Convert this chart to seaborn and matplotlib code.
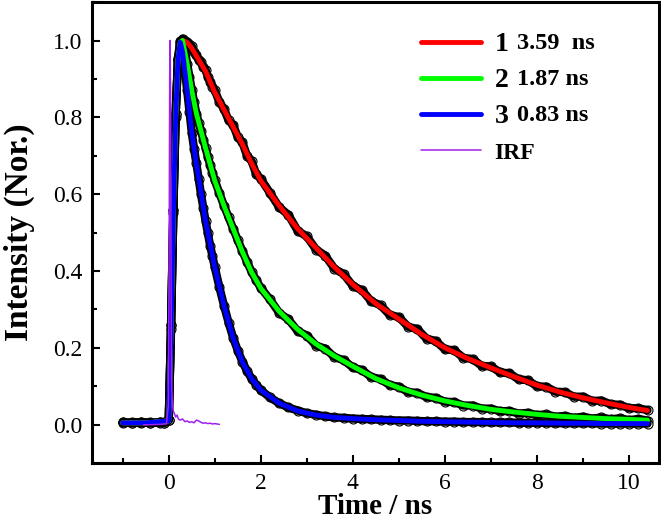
import matplotlib
matplotlib.use("Agg")
import matplotlib.pyplot as plt
import pandas as pd
import seaborn as sns
from matplotlib.ticker import MultipleLocator, FormatStrFormatter

sns.set_style("ticks")
plt.rcParams['font.family'] = ['Liberation Serif', 'DejaVu Serif']
plt.rcParams['text.color'] = 'black'
plt.rcParams['axes.labelcolor'] = 'black'

t_data = [-1.0, -0.8, -0.6, -0.4, -0.2, -0.1,
          0.0, 0.05, 0.1, 0.15, 0.2, 0.25, 0.3, 0.35, 0.4, 0.45, 0.5, 0.55, 0.6, 0.65, 0.7,
          0.75, 0.8, 0.85, 0.9, 0.95, 1.0,
          1.1, 1.2, 1.3, 1.4, 1.5, 1.6, 1.7, 1.8, 1.9, 2.0,
          2.2, 2.4, 2.6, 2.8, 3.0, 3.2, 3.4, 3.6, 3.8, 4.0, 4.2, 4.4, 4.6, 4.8, 5.0,
          5.2, 5.4, 5.6, 5.8, 6.0, 6.2, 6.4, 6.6, 6.8, 7.0, 7.2, 7.4, 7.6, 7.8, 8.0,
          8.2, 8.4, 8.6, 8.8, 9.0, 9.2, 9.4, 9.6, 9.8, 10.0, 10.2, 10.4]

data_1 = [0.006, 0.004, 0.007, 0.005, 0.006, 0.004,
          0.012, 0.26, 0.56, 0.81, 0.95, 0.995, 1.005, 1.0, 0.996, 0.99, 0.985, 0.97, 0.962, 0.95, 0.944,
          0.93, 0.924, 0.905, 0.893, 0.88, 0.87,
          0.84, 0.822, 0.792, 0.78, 0.748, 0.735, 0.70, 0.686, 0.652, 0.64,
          0.603, 0.566, 0.546, 0.505, 0.49, 0.456, 0.44, 0.406, 0.392, 0.361, 0.35, 0.321, 0.311, 0.286, 0.28,
          0.255, 0.249, 0.224, 0.218, 0.196, 0.194, 0.174, 0.171, 0.153, 0.152, 0.136, 0.134, 0.118, 0.116, 0.1,
          0.099, 0.086, 0.085, 0.073, 0.073, 0.062, 0.063, 0.053, 0.052, 0.043, 0.043, 0.038]

data_2 = [0.005, 0.006, 0.004, 0.006, 0.005, 0.006,
          0.012, 0.25, 0.55, 0.8, 0.95, 0.99, 1.0, 0.975, 0.94, 0.905, 0.872, 0.84, 0.81, 0.786, 0.765,
          0.742, 0.72, 0.697, 0.676, 0.655, 0.636,
          0.603, 0.57, 0.54, 0.51, 0.48, 0.452, 0.424, 0.398, 0.376, 0.356,
          0.326, 0.291, 0.274, 0.244, 0.232, 0.206, 0.198, 0.176, 0.168, 0.149, 0.142, 0.124, 0.119, 0.103, 0.099,
          0.085, 0.083, 0.072, 0.07, 0.06, 0.059, 0.05, 0.05, 0.042, 0.042, 0.035, 0.036, 0.029, 0.031, 0.025,
          0.027, 0.021, 0.023, 0.018, 0.021, 0.016, 0.019, 0.014, 0.017, 0.012, 0.015, 0.011]

data_3 = [0.006, 0.005, 0.007, 0.004, 0.006, 0.005,
          0.012, 0.26, 0.56, 0.81, 0.955, 0.998, 0.97, 0.925, 0.87, 0.815, 0.76, 0.718, 0.68, 0.64, 0.60,
          0.565, 0.53, 0.498, 0.466, 0.438, 0.41,
          0.358, 0.31, 0.266, 0.226, 0.193, 0.164, 0.14, 0.12, 0.104, 0.09,
          0.071, 0.056, 0.045, 0.037, 0.03, 0.026, 0.022, 0.019, 0.018, 0.016, 0.015, 0.014, 0.013, 0.012, 0.011,
          0.011, 0.01, 0.009, 0.009, 0.008, 0.008, 0.007, 0.007, 0.007, 0.006, 0.006, 0.006, 0.005, 0.005, 0.005,
          0.005, 0.004, 0.004, 0.004, 0.004, 0.004, 0.003, 0.003, 0.003, 0.003, 0.003, 0.003]

# fitted curves
t_fit = [-1.0, -0.5, 0.0, 0.05, 0.1, 0.15, 0.2, 0.25, 0.3, 0.4, 0.5, 0.6, 0.8, 1.0, 1.2, 1.4, 1.6, 1.8,
         2.0, 2.4, 2.8, 3.2, 3.6, 4.0, 4.5, 5.0, 5.5, 6.0, 6.5, 7.0, 7.5, 8.0, 8.5, 9.0, 9.5, 10.0, 10.4]
fit_1 = [0.005, 0.005, 0.01, 0.25, 0.55, 0.8, 0.95, 0.995, 1.0, 0.995, 0.98, 0.96, 0.92, 0.865, 0.82, 0.775,
         0.73, 0.68, 0.635, 0.57, 0.51, 0.46, 0.41, 0.365, 0.315, 0.275, 0.235, 0.2, 0.172, 0.148, 0.125,
         0.103, 0.085, 0.07, 0.057, 0.045, 0.037]
fit_2 = [0.005, 0.005, 0.01, 0.25, 0.55, 0.8, 0.95, 0.995, 1.0, 0.94, 0.87, 0.81, 0.72, 0.635, 0.57, 0.51,
         0.45, 0.397, 0.355, 0.295, 0.248, 0.21, 0.179, 0.152, 0.12, 0.096, 0.077, 0.062, 0.05, 0.04, 0.033,
         0.027, 0.022, 0.019, 0.016, 0.014, 0.012]
fit_3 = [0.005, 0.005, 0.01, 0.25, 0.55, 0.8, 0.95, 0.995, 0.97, 0.87, 0.76, 0.68, 0.53, 0.41, 0.31, 0.225,
         0.163, 0.12, 0.09, 0.056, 0.036, 0.025, 0.019, 0.016, 0.013, 0.011, 0.009, 0.008, 0.007, 0.006,
         0.005, 0.005, 0.004, 0.004, 0.003, 0.003, 0.003]

# instrument response
t_irf = [-0.55, -0.4, -0.2, -0.05, -0.01, 0.01, 0.02, 0.03, 0.04, 0.05, 0.06, 0.08, 0.1, 0.12, 0.15,
         0.18, 0.21, 0.25, 0.3, 0.35, 0.4, 0.45, 0.5, 0.55, 0.6, 0.65, 0.7, 0.75, 0.8, 0.85, 0.9, 0.95, 1.0, 1.1]
irf = [0.0, 0.0, 0.001, 0.002, 0.05, 0.5, 0.9, 1.0, 0.85, 0.4, 0.12, 0.05, 0.035, 0.03, 0.02,
       0.025, 0.015, 0.012, 0.015, 0.008, 0.01, 0.006, 0.008, 0.005, 0.012, 0.01, 0.006, 0.004, 0.005,
       0.003, 0.004, 0.002, 0.003, 0.001]

names = ['1', '2', '3']
lifetimes = ['3.59  ns', '1.87 ns', '0.83 ns']
colors = ['#ff0000', '#00ff00', '#0000ff']

fig = plt.figure(figsize=(6.61, 5.21), dpi=100)
ax = fig.add_axes([0.139, 0.111, 0.858, 0.885])

for name, d, f, c in zip(names, [data_1, data_2, data_3], [fit_1, fit_2, fit_3], colors):
    df_d = pd.DataFrame({'t': t_data, 'I': d})
    df_f = pd.DataFrame({'t': t_fit, 'I': f})
    sns.scatterplot(data=df_d, x='t', y='I', marker='o', s=42, color='white',
                    edgecolor='black', linewidth=0.8, zorder=2, ax=ax, legend=False)
    sns.lineplot(data=df_d, x='t', y='I', color='black', lw=6, sort=False,
                 estimator=None, zorder=3, ax=ax)
    sns.lineplot(data=df_f, x='t', y='I', color=c, lw=3.5, sort=False,
                 estimator=None, zorder=4, ax=ax, label=name)

df_irf = pd.DataFrame({'t': t_irf, 'I': irf})
sns.lineplot(data=df_irf, x='t', y='I', color='#a020f0', lw=1.1, sort=False,
             estimator=None, zorder=5, ax=ax, label='IRF')

ax.set_xlim(-1.67, 10.65)
ax.set_ylim(-0.1, 1.1)
ax.xaxis.set_major_locator(MultipleLocator(2))
ax.xaxis.set_minor_locator(MultipleLocator(1))
ax.yaxis.set_major_locator(MultipleLocator(0.2))
ax.yaxis.set_minor_locator(MultipleLocator(0.1))
ax.yaxis.set_major_formatter(FormatStrFormatter('%.1f'))
ax.tick_params(which='major', direction='in', length=6, width=1.5, labelsize=17, pad=7,
               top=False, right=False, colors='black')
ax.tick_params(which='minor', direction='in', length=3.5, width=1.5, top=False, right=False,
               colors='black')
for sp in ax.spines.values():
    sp.set_linewidth(2.2)
    sp.set_color('black')

ax.set_xlabel('Time / ns', fontsize=21, fontweight='bold', labelpad=-1, color='black')
ax.set_ylabel('Intensity (Nor.)', fontsize=24, fontweight='bold', labelpad=13, color='black')

handles, labels = ax.get_legend_handles_labels()
leg = ax.legend(handles, labels, loc='upper left', bbox_to_anchor=(0.58, 0.935), frameon=False,
                prop={'weight': 'bold', 'size': 20}, handlelength=2.16, handletextpad=0.5,
                labelspacing=0.38, borderpad=0, borderaxespad=0, labelcolor='black')
texts = leg.get_texts()
texts[3].set_fontsize(17)
for txt, lt in zip(texts[:3], lifetimes):
    ax.annotate(lt, xy=(1, 0.5), xycoords=txt, xytext=(6, 1), textcoords='offset points',
                va='center', ha='left', fontsize=17.5, fontweight='bold', color='black', zorder=6)

fig.canvas.draw()
fig.savefig('out.png', dpi=100)
